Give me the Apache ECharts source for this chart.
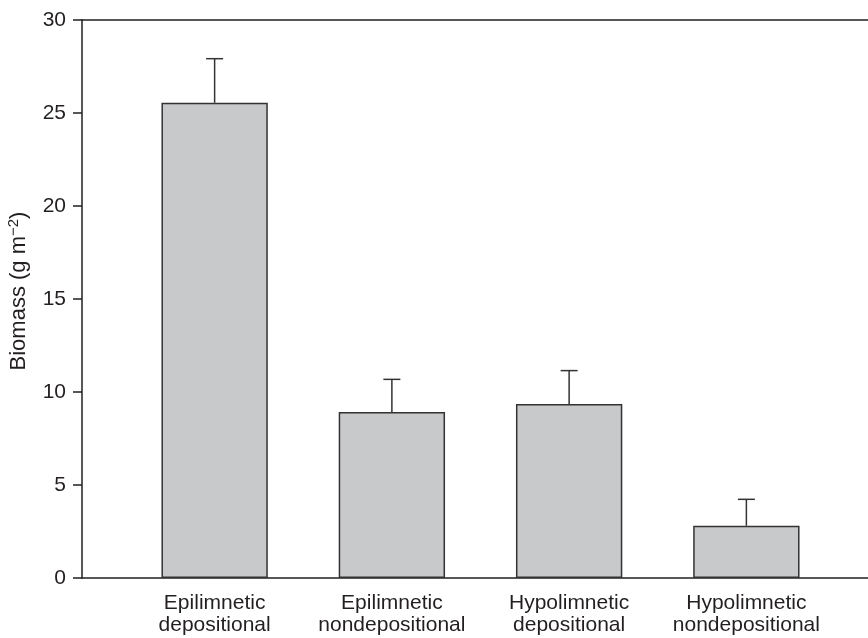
<!DOCTYPE html>
<html>
<head>
<meta charset="utf-8">
<script src="https://cdn.jsdelivr.net/npm/echarts@6/dist/echarts.min.js"></script>
<style>
  html, body { margin: 0; padding: 0; background: #fff; }
  #chart { width: 868px; height: 638px; }
</style>
</head>
<body>
<div id="chart"></div>
<script>
// Site categories (two-line labels)
const categories = [
  'Epilimnetic\ndepositional',
  'Epilimnetic\nnondepositional',
  'Hypolimnetic\ndepositional',
  'Hypolimnetic\nnondepositional'
];
// Mean biomass (g m^-2) per site
const biomass = [25.55, 8.92, 9.35, 2.81];
// Upper end of the error bar (mean + SE)
const upper = [27.92, 10.68, 11.15, 4.23];
// Y axis range and tick step
const yMin = 0, yMax = 30, yStep = 5;

const ink = '#231f20';
const font = '"Liberation Sans", Arial, Helvetica, sans-serif';

const chart = echarts.init(document.getElementById('chart'), null, { renderer: 'canvas' });

const option = {
  backgroundColor: '#ffffff',
  animation: false,
  grid: [
    // frame grid: full-width axis lines
    { left: 82, right: 0, top: 20, bottom: 60, containLabel: false, outerBoundsMode: 'none' },
    // data grid: bars and category labels
    { left: 126, right: 33, top: 20, bottom: 60, containLabel: false, outerBoundsMode: 'none' }
  ],
  xAxis: [
    {
      type: 'value', gridIndex: 0, min: 0, max: 1, position: 'bottom',
      axisLine: { show: true, lineStyle: { color: ink, width: 1.5 } },
      axisTick: { show: false }, axisLabel: { show: false }, splitLine: { show: false }
    },
    {
      type: 'value', gridIndex: 0, min: 0, max: 1, position: 'top',
      axisLine: { show: true, lineStyle: { color: ink, width: 1.5 } },
      axisTick: { show: false }, axisLabel: { show: false }, splitLine: { show: false }
    },
    {
      type: 'category', gridIndex: 1, data: categories,
      axisLine: { show: false }, axisTick: { show: false },
      axisLabel: {
        color: ink, fontFamily: font, fontSize: 21, lineHeight: 22,
        margin: 14, interval: 0
      },
      splitLine: { show: false }
    }
  ],
  yAxis: [
    {
      type: 'value', gridIndex: 0, min: yMin, max: yMax, interval: yStep,
      axisLine: { show: true, lineStyle: { color: ink, width: 1.5 } },
      axisTick: { show: true, length: 9, lineStyle: { color: ink, width: 1.5 } },
      axisLabel: { color: ink, fontFamily: font, fontSize: 21, margin: 16 },
      splitLine: { show: false },
      name: '{t|Biomass (g m}{sup|−2}{t|)}',
      nameLocation: 'middle',
      nameGap: 50,
      nameTextStyle: {
        padding: [0, 0, 0, 16],
        rich: {
          t: { color: ink, fontFamily: font, fontSize: 22 },
          sup: { color: ink, fontFamily: font, fontSize: 15, padding: [0, 0, 11, 0] }
        }
      }
    },
    {
      type: 'value', gridIndex: 1, min: yMin, max: yMax, interval: yStep,
      show: false
    }
  ],
  series: [
    {
      type: 'bar',
      xAxisIndex: 2, yAxisIndex: 1,
      data: biomass,
      barWidth: '60%',
      itemStyle: { color: '#c8c9cb', borderColor: '#333333', borderWidth: 1.5 },
      z: 2
    },
    {
      type: 'custom',
      xAxisIndex: 2, yAxisIndex: 1,
      data: biomass.map((v, i) => [i, v, upper[i]]),
      z: 3,
      renderItem: function (params, api) {
        const x = api.value(0);
        const base = api.coord([x, api.value(1)]);
        const top = api.coord([x, api.value(2)]);
        const half = 8.5;
        const style = { stroke: '#333333', lineWidth: 1.5, fill: null };
        return {
          type: 'group',
          children: [
            { type: 'line', shape: { x1: base[0], y1: base[1], x2: top[0], y2: top[1] }, style: style },
            { type: 'line', shape: { x1: top[0] - half, y1: top[1], x2: top[0] + half, y2: top[1] }, style: style }
          ]
        };
      }
    }
  ]
};

chart.setOption(option);
</script>
</body>
</html>
